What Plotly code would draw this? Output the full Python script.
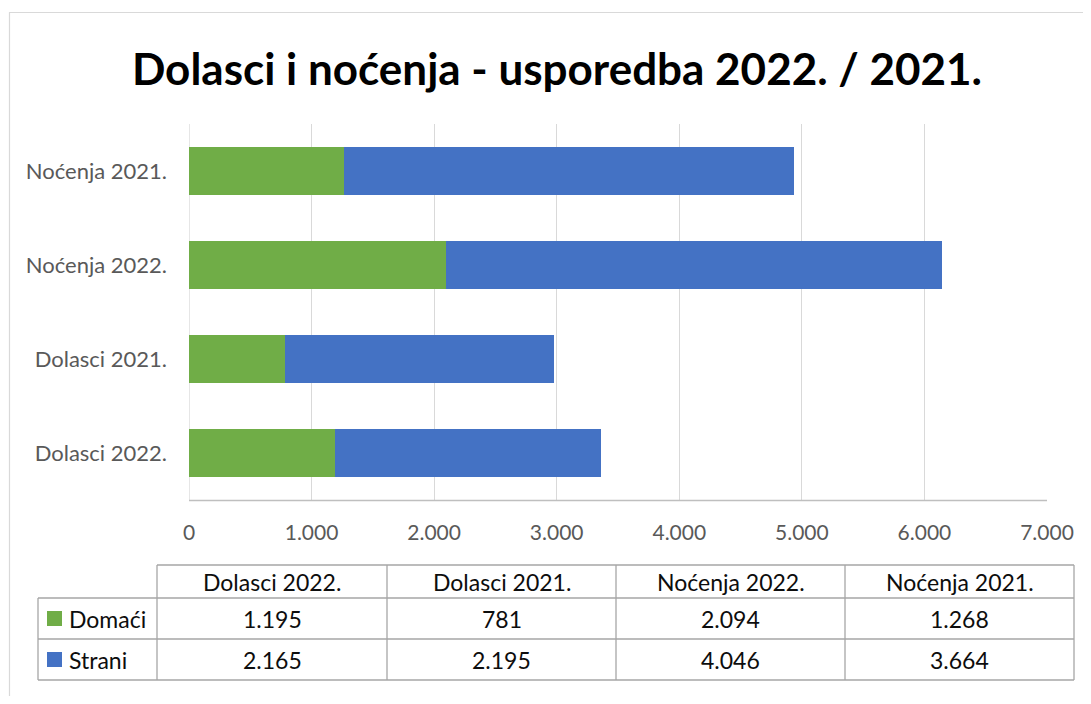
import plotly.graph_objects as go

categories = ["Dolasci 2022.", "Dolasci 2021.", "Noćenja 2022.", "Noćenja 2021."]
domaci = [1195, 781, 2094, 1268]
strani = [2165, 2195, 4046, 3664]
series_names = ["Domaći", "Strani"]
colors = ["#70AD47", "#4472C4"]
x_ticks = [0, 1000, 2000, 3000, 4000, 5000, 6000, 7000]

# the page body has an 8px margin; the figure is sized to fit inside the window
OFF = 8
W, H = 1091 - 2 * OFF, 704 - 2 * OFF
FONT = "Lato"


def px(x):
    return (x - OFF) / W


def py(y):
    return 1 - (y - OFF) / H


def fmt(v):
    return f"{v:,}".replace(",", ".")


fig = go.Figure()
for name, vals, col in zip(series_names, [domaci, strani], colors):
    fig.add_trace(go.Bar(
        y=categories, x=vals, name=name, orientation="h",
        marker=dict(color=col, line=dict(width=0)),
        hoverinfo="x+name",
    ))

shapes = []
annotations = []

# chart outer border (right and bottom edges lie outside the visible page)
shapes.append(dict(type="rect", xref="paper", yref="paper",
                   x0=px(9.5), x1=px(1110), y0=py(720), y1=py(12.5),
                   line=dict(color="#D9D9D9", width=1.2), fillcolor="rgba(0,0,0,0)"))

# data table
tbl_line = dict(color="#A6A6A6", width=1.3)
row_y = [565, 598, 639, 680]
col_x = [157, 387, 616, 845, 1074]
left_x = 38
shapes.append(dict(type="line", xref="paper", yref="paper",
                   x0=px(col_x[0]), x1=px(col_x[-1]), y0=py(row_y[0]), y1=py(row_y[0]), line=tbl_line))
for yy in row_y[1:]:
    shapes.append(dict(type="line", xref="paper", yref="paper",
                       x0=px(left_x), x1=px(col_x[-1]), y0=py(yy), y1=py(yy), line=tbl_line))
shapes.append(dict(type="line", xref="paper", yref="paper",
                   x0=px(left_x), x1=px(left_x), y0=py(row_y[1]), y1=py(row_y[-1]), line=tbl_line))
for xx in col_x:
    shapes.append(dict(type="line", xref="paper", yref="paper",
                       x0=px(xx), x1=px(xx), y0=py(row_y[0]), y1=py(row_y[-1]), line=tbl_line))

tfont = dict(family=FONT, size=23, color="#0D0D0D")
for i, c in enumerate(categories):
    cx = (col_x[i] + col_x[i + 1]) / 2
    annotations.append(dict(xref="paper", yref="paper", x=px(cx), y=py((row_y[0] + row_y[1]) / 2),
                            text=c, showarrow=False, font=tfont, xanchor="center", yanchor="middle"))
for r, (name, vals, col) in enumerate(zip(series_names, [domaci, strani], colors)):
    cy = (row_y[r + 1] + row_y[r + 2]) / 2
    shapes.append(dict(type="rect", xref="paper", yref="paper",
                       x0=px(47), x1=px(62), y0=py(cy + 7.5), y1=py(cy - 7.5),
                       fillcolor=col, line=dict(width=0)))
    annotations.append(dict(xref="paper", yref="paper", x=px(67), y=py(cy),
                            text=name, showarrow=False, font=tfont, xanchor="left", yanchor="middle"))
    for i, v in enumerate(vals):
        cx = (col_x[i] + col_x[i + 1]) / 2
        annotations.append(dict(xref="paper", yref="paper", x=px(cx), y=py(cy),
                                text=fmt(v), showarrow=False, font=tfont, xanchor="center", yanchor="middle"))

fig.update_layout(
    width=W, height=H, autosize=False,
    margin=dict(l=0, r=0, t=0, b=0, pad=0, autoexpand=False),
    paper_bgcolor="white", plot_bgcolor="white",
    barmode="stack", bargap=0.49,
    separators=",.",
    showlegend=False,
    title=dict(text="<b>Dolasci i noćenja - usporedba 2022. / 2021.</b>",
               x=px(557), xanchor="center", y=py(70), yanchor="middle",
               font=dict(family=FONT, size=44, color="#000000")),
    xaxis=dict(domain=[px(189), px(1047)], range=[0, 7000],
               tickvals=x_ticks, tickformat=",d", automargin=False,
               showgrid=True, gridcolor="#D9D9D9", gridwidth=1.3,
               zeroline=False, showline=False, ticks="",
               ticklabelstandoff=18,
               tickfont=dict(family=FONT, size=21, color="#595959"),
               anchor="y"),
    yaxis=dict(domain=[py(500), py(124)], range=[-0.5, 3.5], automargin=False,
               categoryorder="array", categoryarray=categories,
               showgrid=False, zeroline=False, showline=False, ticks="",
               ticklabelstandoff=21,
               tickfont=dict(family=FONT, size=22, color="#595959")),
    shapes=shapes,
    annotations=annotations,
    font=dict(family=FONT),
)
fig.add_shape(type="line", xref="x", yref="paper", x0=0, x1=7000,
              y0=py(500.5), y1=py(500.5), line=dict(color="#BFBFBF", width=1.5), layer="above")
fig.add_shape(type="line", xref="x", yref="paper", x0=0, x1=0,
              y0=py(500.5), y1=py(124), line=dict(color="#D9D9D9", width=1.3), layer="below")

fig.write_html("out.html")
